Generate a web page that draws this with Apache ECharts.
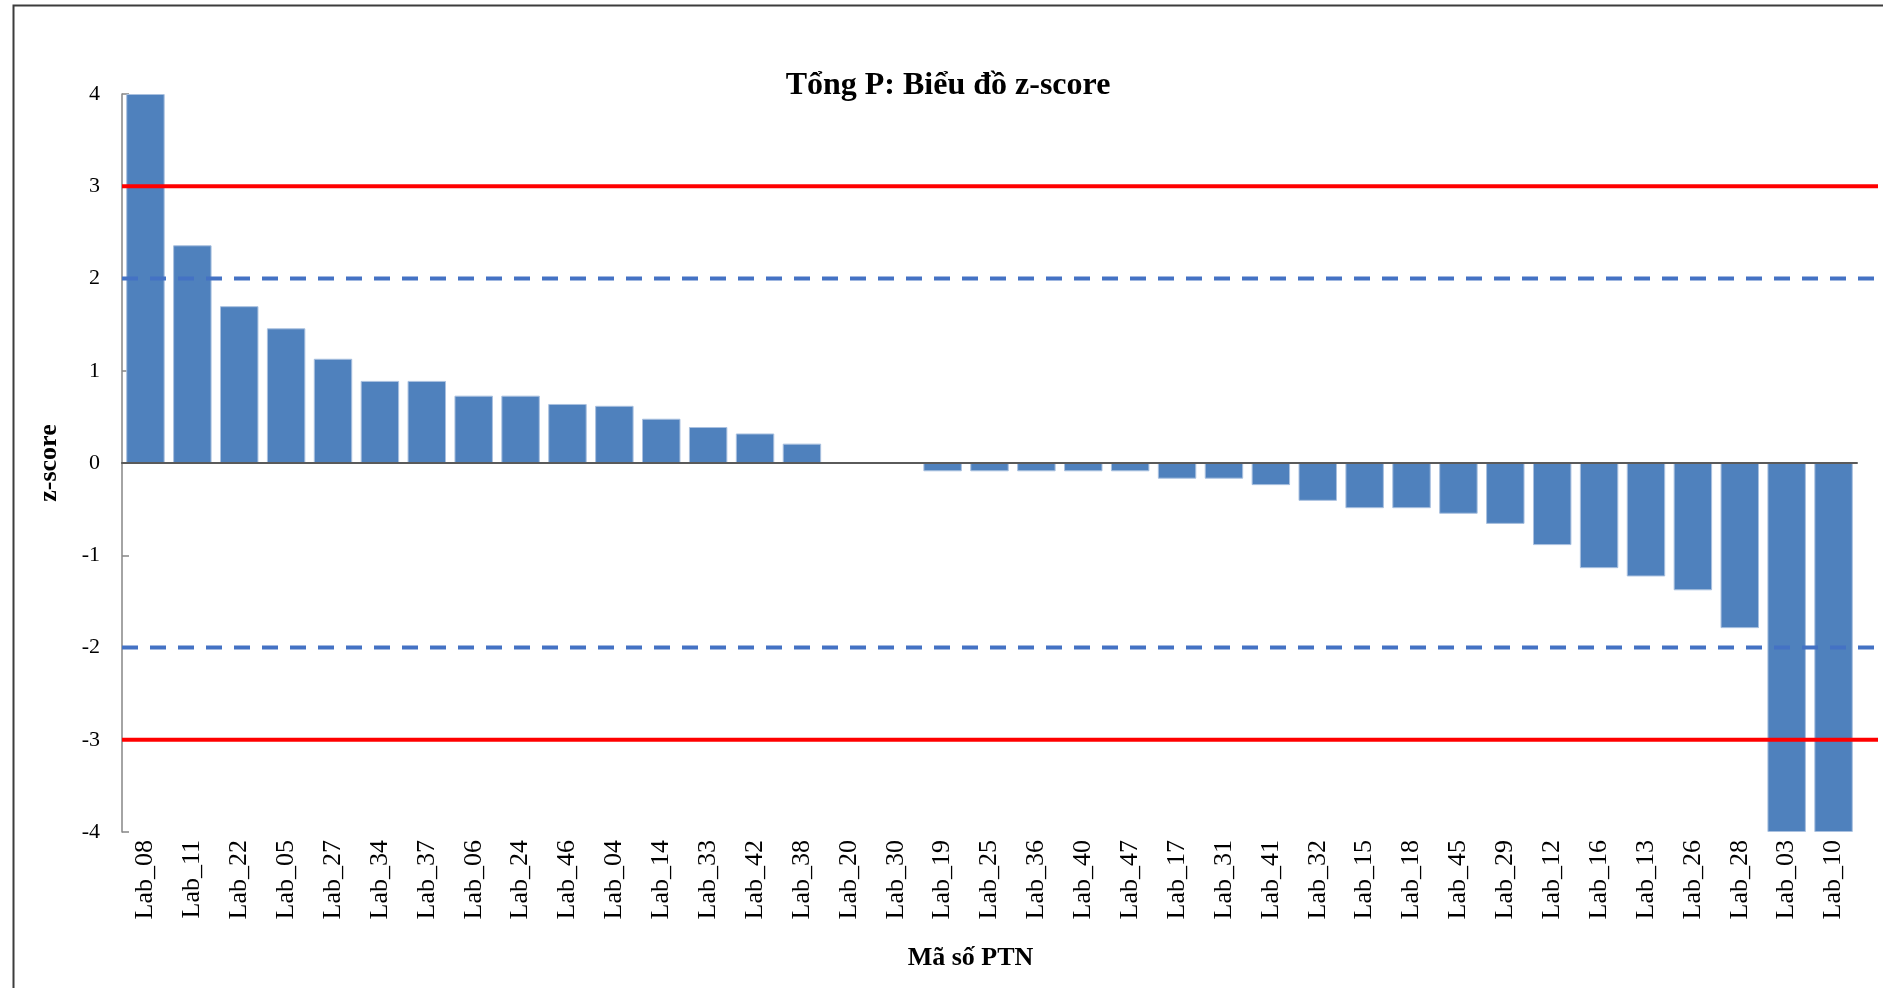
<!DOCTYPE html>
<html>
<head>
<meta charset="utf-8">
<title>Tổng P: Biểu đồ z-score</title>
<script src="https://cdn.jsdelivr.net/npm/echarts@6/dist/echarts.min.js"></script>
<style>
  html, body { margin: 0; padding: 0; background: #ffffff; }
  #chart { width: 1883px; height: 988px; }
</style>
</head>
<body>
<div id="chart"></div>
<script>
// Laboratory codes, sorted by z-score
const labs = [
  'Lab_08', 'Lab_11', 'Lab_22', 'Lab_05', 'Lab_27', 'Lab_34', 'Lab_37', 'Lab_06', 'Lab_24', 'Lab_46',
  'Lab_04', 'Lab_14', 'Lab_33', 'Lab_42', 'Lab_38', 'Lab_20', 'Lab_30', 'Lab_19', 'Lab_25', 'Lab_36',
  'Lab_40', 'Lab_47', 'Lab_17', 'Lab_31', 'Lab_41', 'Lab_32', 'Lab_15', 'Lab_18', 'Lab_45', 'Lab_29',
  'Lab_12', 'Lab_16', 'Lab_13', 'Lab_26', 'Lab_28', 'Lab_03', 'Lab_10'
];

// z-score of each laboratory
const zScores = [
  4.00, 2.36, 1.70, 1.46, 1.13, 0.89, 0.89, 0.73, 0.73, 0.64,
  0.62, 0.48, 0.39, 0.32, 0.21, 0.00, 0.00, -0.09, -0.09, -0.09,
  -0.09, -0.09, -0.17, -0.17, -0.24, -0.41, -0.49, -0.49, -0.55, -0.66,
  -0.89, -1.14, -1.23, -1.38, -1.79, -4.00, -4.00
];

// Action limits (|z| = 3) and warning limits (|z| = 2)
const actionLimits = [3, -3];
const warningLimits = [2, -2];

// z-score axis range and step
const yMin = -4;
const yMax = 4;
const yStep = 1;

const serif = '"Liberation Serif", "Times New Roman", serif';

const gridBox = { left: 122, right: 26, top: 94, bottom: 156 };

function limitLine(name, value, style) {
  return {
    name: name,
    type: 'line',
    xAxisIndex: 2,
    yAxisIndex: 1,
    data: [[0, value], [1, value]],
    symbol: 'none',
    silent: true,
    z: 5,
    lineStyle: style
  };
}

const series = [
  {
    name: 'z-score',
    type: 'bar',
    xAxisIndex: 1,
    yAxisIndex: 0,
    data: zScores,
    barCategoryGap: '18%',
    itemStyle: { color: '#4F81BD', borderColor: '#A9C0DF', borderWidth: 1 },
    z: 2
  }
];
warningLimits.forEach(v => series.push(limitLine('±2', v, { color: '#4472C4', width: 4, type: [16, 12] })));
actionLimits.forEach(v => series.push(limitLine('±3', v, { color: '#FF0000', width: 4, type: 'solid' })));

const chart = echarts.init(document.getElementById('chart'), null, { renderer: 'canvas' });

chart.setOption({
  animation: false,
  backgroundColor: '#ffffff',
  title: {
    text: 'Tổng P: Biểu đồ z-score',
    left: 943,
    top: 65,
    textAlign: 'center',
    textStyle: { fontFamily: serif, fontSize: 32, fontWeight: 'bold', color: '#000000' }
  },
  graphic: [
    {
      type: 'rect',
      left: 11,
      top: 3,
      shape: { width: 1900, height: 1000 },
      style: { fill: 'none', stroke: '#3c3c3c', lineWidth: 2 },
      silent: true
    }
  ],
  grid: [
    Object.assign({}, gridBox),
    { left: 122, right: 5, top: gridBox.top, bottom: gridBox.bottom }
  ],
  xAxis: [
    {
      // zero line, drawn over the bars
      type: 'category',
      gridIndex: 0,
      data: labs,
      position: 'top',
      z: 4,
      axisLine: { show: true, onZero: true, lineStyle: { color: '#5a5a5a', width: 2 } },
      axisTick: { show: false },
      axisLabel: { show: false },
      splitLine: { show: false }
    },
    {
      // category labels at the bottom of the plot
      type: 'category',
      gridIndex: 0,
      data: labs,
      position: 'bottom',
      axisLine: { show: false, onZero: false },
      axisTick: { show: false },
      axisLabel: {
        rotate: 90,
        interval: 0,
        margin: 8,
        fontFamily: serif,
        fontSize: 26,
        color: '#000000'
      },
      name: 'Mã số PTN',
      nameLocation: 'middle',
      nameGap: 113,
      nameTextStyle: {
        fontFamily: serif,
        fontSize: 26,
        fontWeight: 'bold',
        color: '#000000',
        padding: [0, 38, 0, 0]
      },
      splitLine: { show: false }
    },
    {
      type: 'value',
      gridIndex: 1,
      min: 0,
      max: 1,
      show: false
    }
  ],
  yAxis: [
    {
      type: 'value',
      gridIndex: 0,
      min: yMin,
      max: yMax,
      interval: yStep,
      axisLine: { show: true, onZero: false, lineStyle: { color: '#868686', width: 1.5 } },
      axisTick: { show: true, inside: true, length: 7, lineStyle: { color: '#868686', width: 1.5 } },
      axisLabel: { margin: 22, fontFamily: serif, fontSize: 22, color: '#000000' },
      splitLine: { show: false },
      name: 'z-score',
      nameLocation: 'middle',
      nameRotate: 90,
      nameGap: 60,
      nameTextStyle: { fontFamily: serif, fontSize: 26, fontWeight: 'bold', color: '#000000' }
    },
    {
      type: 'value',
      gridIndex: 1,
      min: yMin,
      max: yMax,
      show: false
    }
  ],
  series: series
});
</script>
</body>
</html>
